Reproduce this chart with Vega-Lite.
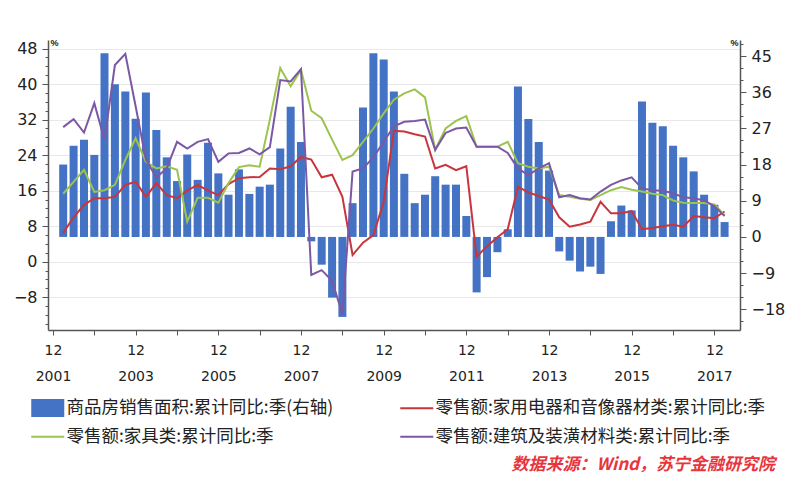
{
  "$schema": "https://vega.github.io/schema/vega-lite/v6.json",
  "width": 692,
  "height": 290,
  "autosize": {"type": "none"},
  "padding": {"left": 48, "top": 40, "right": 60, "bottom": 154},
  "background": "white",
  "config": {
    "view": {"stroke": null},
    "axis": {"labelFont": "DejaVu Sans", "labelColor": "#222222", "domainColor": "#555555", "tickColor": "#555555", "domainWidth": 1.5}
  },
  "data": {
    "format": {"parse": {"d": "utc:'%Y-%m'"}},
    "values": [
      {"d": "2002-03", "bar": 18.0, "red": 6.5, "green": 15.3, "purple": 30.3},
      {"d": "2002-06", "bar": 22.7, "red": 10.0, "green": 18.0, "purple": 32.1},
      {"d": "2002-09", "bar": 24.2, "red": 12.8, "green": 20.7, "purple": 29.1},
      {"d": "2002-12", "bar": 20.4, "red": 14.3, "green": 15.7, "purple": 35.7},
      {"d": "2003-03", "bar": 45.7, "red": 14.3, "green": 16.1, "purple": 27.4},
      {"d": "2003-06", "bar": 38.0, "red": 14.6, "green": 17.3, "purple": 44.3},
      {"d": "2003-09", "bar": 36.2, "red": 17.3, "green": 22.9, "purple": 46.8},
      {"d": "2003-12", "bar": 29.4, "red": 18.0, "green": 27.8, "purple": 35.0},
      {"d": "2004-03", "bar": 35.9, "red": 14.6, "green": 22.5, "purple": 23.0},
      {"d": "2004-06", "bar": 26.6, "red": 17.7, "green": 21.0, "purple": 19.0},
      {"d": "2004-09", "bar": 19.8, "red": 15.0, "green": 21.5, "purple": 21.0},
      {"d": "2004-12", "bar": 13.9, "red": 14.3, "green": 20.7, "purple": 27.0},
      {"d": "2005-03", "bar": 20.5, "red": 16.0, "green": 9.0, "purple": 25.5},
      {"d": "2005-06", "bar": 14.2, "red": 17.3, "green": 14.4, "purple": 27.0},
      {"d": "2005-09", "bar": 23.4, "red": 16.0, "green": 14.4, "purple": 27.6},
      {"d": "2005-12", "bar": 15.8, "red": 15.0, "green": 13.3, "purple": 22.5},
      {"d": "2006-03", "bar": 10.5, "red": 17.5, "green": 17.7, "purple": 24.4},
      {"d": "2006-06", "bar": 16.8, "red": 18.8, "green": 21.3, "purple": 24.5},
      {"d": "2006-09", "bar": 10.7, "red": 19.0, "green": 21.7, "purple": 25.5},
      {"d": "2006-12", "bar": 12.5, "red": 19.1, "green": 21.4, "purple": 24.2},
      {"d": "2007-03", "bar": 13.0, "red": 21.0, "green": 32.0, "purple": 25.8},
      {"d": "2007-06", "bar": 22.0, "red": 20.8, "green": 43.6, "purple": 40.9},
      {"d": "2007-09", "bar": 32.4, "red": 21.5, "green": 39.5, "purple": 40.6},
      {"d": "2007-12", "bar": 23.6, "red": 23.6, "green": 43.2, "purple": 43.4},
      {"d": "2008-03", "bar": -1.1, "red": 23.0, "green": 34.0, "purple": -3.0},
      {"d": "2008-06", "bar": -6.9, "red": 19.0, "green": 32.3, "purple": -1.9},
      {"d": "2008-09", "bar": -15.1, "red": 19.6, "green": 27.5, "purple": -4.3},
      {"d": "2008-12", "bar": -19.9, "red": 14.6, "green": 22.9, "purple": -11.8},
      {"d": "2009-03", "bar": 8.4, "red": 1.5, "green": 24.0, "purple": 20.3},
      {"d": "2009-06", "bar": 32.2, "red": 4.3, "green": 27.0, "purple": 21.0},
      {"d": "2009-09", "bar": 45.7, "red": 6.0, "green": 30.0, "purple": 23.5},
      {"d": "2009-12", "bar": 44.1, "red": 13.5, "green": 33.4, "purple": 27.0},
      {"d": "2010-03", "bar": 36.2, "red": 29.5, "green": 36.5, "purple": 30.5},
      {"d": "2010-06", "bar": 15.7, "red": 29.3, "green": 37.9, "purple": 31.5},
      {"d": "2010-09", "bar": 8.4, "red": 28.7, "green": 38.8, "purple": 31.7},
      {"d": "2010-12", "bar": 10.5, "red": 28.2, "green": 37.0, "purple": 32.0},
      {"d": "2011-03", "bar": 15.1, "red": 21.0, "green": 25.2, "purple": 25.2},
      {"d": "2011-06", "bar": 13.0, "red": 21.8, "green": 30.0, "purple": 29.0},
      {"d": "2011-09", "bar": 13.0, "red": 20.6, "green": 31.7, "purple": 30.0},
      {"d": "2011-12", "bar": 5.2, "red": 21.5, "green": 32.8, "purple": 30.2},
      {"d": "2012-03", "bar": -13.8, "red": 1.1, "green": 25.9, "purple": 25.9},
      {"d": "2012-06", "bar": -10.0, "red": 3.5, "green": 25.9, "purple": 25.9},
      {"d": "2012-09", "bar": -3.8, "red": 5.5, "green": 25.9, "purple": 25.9},
      {"d": "2012-12", "bar": 1.9, "red": 7.3, "green": 27.0, "purple": 24.5},
      {"d": "2013-03", "bar": 37.4, "red": 16.9, "green": 22.2, "purple": 21.0},
      {"d": "2013-06", "bar": 29.3, "red": 15.6, "green": 21.4, "purple": 19.5},
      {"d": "2013-09", "bar": 23.6, "red": 14.8, "green": 21.0, "purple": 21.0},
      {"d": "2013-12", "bar": 16.5, "red": 14.0, "green": 21.4, "purple": 22.2},
      {"d": "2014-03", "bar": -3.6, "red": 10.0, "green": 15.0, "purple": 14.5},
      {"d": "2014-06", "bar": -5.9, "red": 7.9, "green": 14.6, "purple": 15.0},
      {"d": "2014-09", "bar": -8.6, "red": 8.4, "green": 14.2, "purple": 14.3},
      {"d": "2014-12", "bar": -7.4, "red": 9.0, "green": 13.9, "purple": 14.0},
      {"d": "2015-03", "bar": -9.2, "red": 13.5, "green": 15.0, "purple": 15.8},
      {"d": "2015-06", "bar": 3.9, "red": 10.9, "green": 16.1, "purple": 17.3},
      {"d": "2015-09", "bar": 7.8, "red": 10.9, "green": 16.8, "purple": 18.3},
      {"d": "2015-12", "bar": 6.6, "red": 11.4, "green": 16.2, "purple": 19.0},
      {"d": "2016-03", "bar": 33.7, "red": 7.3, "green": 15.8, "purple": 16.5},
      {"d": "2016-06", "bar": 28.4, "red": 7.6, "green": 15.3, "purple": 16.1},
      {"d": "2016-09", "bar": 27.5, "red": 8.0, "green": 15.0, "purple": 16.0},
      {"d": "2016-12", "bar": 22.7, "red": 8.3, "green": 13.8, "purple": 15.4},
      {"d": "2017-03", "bar": 19.8, "red": 7.9, "green": 13.3, "purple": 14.5},
      {"d": "2017-06", "bar": 16.3, "red": 10.3, "green": 13.2, "purple": 14.3},
      {"d": "2017-09", "bar": 10.5, "red": 10.0, "green": 13.2, "purple": 13.8},
      {"d": "2017-12", "bar": 8.0, "red": 9.8, "green": 12.9, "purple": 12.5},
      {"d": "2018-03", "bar": 3.7, "red": 11.3, "green": 10.5, "purple": 10.3}
    ]
  },
  "title": {
    "text": "数据来源：Wind，苏宁金融研究院",
    "orient": "bottom",
    "anchor": "end",
    "frame": "group",
    "offset": 11,
    "dx": 35,
    "color": "#e8353b",
    "font": "Noto Sans CJK SC",
    "fontSize": 17,
    "fontStyle": "italic",
    "fontWeight": "bold"
  },
  "encoding": {
    "x": {
      "field": "d",
      "type": "temporal",
      "scale": {
        "type": "utc",
        "domain": [
          {"year": 2001, "month": 12, "date": 1, "utc": true},
          {"year": 2018, "month": 6, "date": 1, "utc": true}
        ]
      },
      "axis": {
        "title": null,
        "grid": false,
        "values": [
          {"year": 2001, "month": 12, "date": 1, "utc": true},
          {"year": 2002, "month": 12, "date": 1, "utc": true},
          {"year": 2003, "month": 12, "date": 1, "utc": true},
          {"year": 2004, "month": 12, "date": 1, "utc": true},
          {"year": 2005, "month": 12, "date": 1, "utc": true},
          {"year": 2006, "month": 12, "date": 1, "utc": true},
          {"year": 2007, "month": 12, "date": 1, "utc": true},
          {"year": 2008, "month": 12, "date": 1, "utc": true},
          {"year": 2009, "month": 12, "date": 1, "utc": true},
          {"year": 2010, "month": 12, "date": 1, "utc": true},
          {"year": 2011, "month": 12, "date": 1, "utc": true},
          {"year": 2012, "month": 12, "date": 1, "utc": true},
          {"year": 2013, "month": 12, "date": 1, "utc": true},
          {"year": 2014, "month": 12, "date": 1, "utc": true},
          {"year": 2015, "month": 12, "date": 1, "utc": true},
          {"year": 2016, "month": 12, "date": 1, "utc": true},
          {"year": 2017, "month": 12, "date": 1, "utc": true}
        ],
        "labelExpr": "utcyear(datum.value) % 2 == 1 ? ['12', '' + utcyear(datum.value)] : ''",
        "labelFontSize": 14,
        "labelLineHeight": 26,
        "labelPadding": 8,
        "labelFlush": false,
        "labelOverlap": false,
        "tickSize": 5
      }
    }
  },
  "layer": [
    {
      "transform": [{"fold": ["bar"], "as": ["s", "v"]}],
      "mark": {"type": "bar", "size": 8},
      "encoding": {
        "y": {
          "field": "v",
          "type": "quantitative",
          "scale": {"domain": [-23.15, 48.98], "nice": false, "zero": false},
          "axis": {
            "orient": "right",
            "title": "%",
            "titleAngle": 0,
            "titleAlign": "left",
            "titleBaseline": "bottom",
            "titleX": -10,
            "titleY": 7,
            "titleFontSize": 9,
            "titleFontWeight": "bold",
            "titleColor": "#222222",
            "grid": false,
            "values": [-21, -18, -15, -12, -9, -6, -3, 0, 3, 6, 9, 12, 15, 18, 21, 24, 27, 30, 33, 36, 39, 42, 45, 48],
            "labelExpr": "datum.value % 9 == 0 ? datum.label : ''",
            "tickSize": {"condition": {"test": "datum.value % 9 == 0", "value": 6}, "value": 3},
            "labelFontSize": 16,
            "labelPadding": 5
          }
        },
        "color": {
          "field": "s",
          "type": "nominal",
          "scale": {"domain": ["bar", "red", "green", "purple"], "range": ["#4472c4", "#c8353c", "#9dc34f", "#7b58a6"]},
          "legend": {
            "orient": "none",
            "direction": "horizontal",
            "legendX": -9,
            "legendY": 359,
            "columns": 2,
            "title": null,
            "labelFont": "Noto Sans CJK SC",
            "labelFontSize": 17.5,
            "labelColor": "#222222",
            "labelLimit": 500,
            "labelOffset": 10,
            "symbolSize": 400,
            "columnPadding": 62,
            "rowPadding": 10,
            "labelExpr": "datum.label == 'bar' ? '商品房销售面积:累计同比:季(右轴)' : datum.label == 'red' ? '零售额:家用电器和音像器材类:累计同比:季' : datum.label == 'green' ? '零售额:家具类:累计同比:季' : '零售额:建筑及装潢材料类:累计同比:季'",
            "encode": {
              "symbols": {
                "update": {
                  "shape": {"signal": "datum.value == 'bar' ? 'M-1.65,-0.9L1.65,-0.9L1.65,0.9L-1.65,0.9Z' : 'M-1.65,0L1.65,0'"},
                  "size": {"value": 400},
                  "fill": {"signal": "datum.value == 'bar' ? scale('color', datum.value) : 'transparent'"},
                  "stroke": {"signal": "scale('color', datum.value)"},
                  "strokeWidth": {"signal": "datum.value == 'bar' ? 0 : 2"},
                  "opacity": {"value": 1}
                }
              }
            }
          }
        }
      }
    },
    {
      "transform": [{"fold": ["red", "green", "purple"], "as": ["s", "v"]}],
      "mark": {"type": "line", "strokeWidth": 2},
      "encoding": {
        "y": {
          "field": "v",
          "type": "quantitative",
          "scale": {"domain": [-15.38, 49.93], "nice": false, "zero": false},
          "axis": {
            "orient": "left",
            "title": "%",
            "titleAngle": 0,
            "titleAlign": "left",
            "titleBaseline": "bottom",
            "titleX": 2,
            "titleY": 7,
            "titleFontSize": 9,
            "titleFontWeight": "bold",
            "titleColor": "#222222",
            "grid": true,
            "gridColor": "#e8e8e8",
            "gridOpacity": {"condition": {"test": "datum.value % 8 == 0", "value": 1}, "value": 0},
            "values": [-14, -12, -10, -8, -6, -4, -2, 0, 2, 4, 6, 8, 10, 12, 14, 16, 18, 20, 22, 24, 26, 28, 30, 32, 34, 36, 38, 40, 42, 44, 46, 48],
            "labelExpr": "datum.value % 8 == 0 ? datum.label : ''",
            "tickSize": {"condition": {"test": "datum.value % 8 == 0", "value": 6}, "value": 3},
            "labelFontSize": 16,
            "labelPadding": 5
          }
        },
        "color": {"field": "s", "type": "nominal"}
      }
    }
  ],
  "resolve": {"scale": {"y": "independent"}}
}
